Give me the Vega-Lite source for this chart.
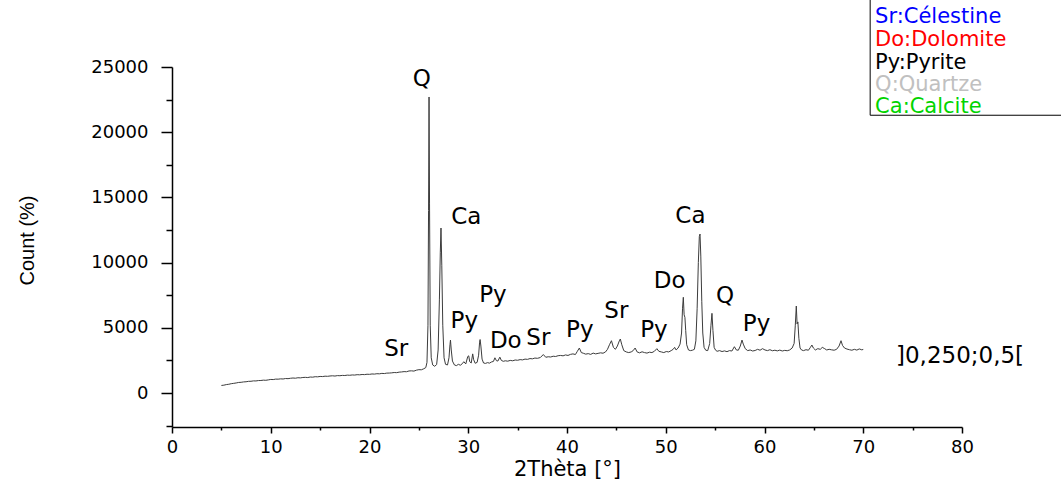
{
  "$schema": "https://vega.github.io/schema/vega-lite/v6.json",
  "width": 790,
  "height": 360,
  "autosize": {"type": "none"},
  "padding": {"left": 172, "top": 67, "right": 99, "bottom": 60},
  "background": "white",
  "config": {"view": {"stroke": null}},
  "encoding": {
    "x": {
      "field": "t",
      "type": "quantitative",
      "scale": {"domain": [0, 80], "nice": false, "zero": false},
      "axis": {
        "title": "2Thèta [°]",
        "values": [0, 5, 10, 15, 20, 25, 30, 35, 40, 45, 50, 55, 60, 65, 70, 75, 80],
        "format": "d",
        "labelExpr": "datum.value % 10 === 0 ? datum.label : ''",
        "tickSize": {"condition": {"test": "datum.value % 10 === 0", "value": 6}, "value": 3},
        "tickWidth": 1.5,
        "tickColor": "black",
        "domainColor": "black",
        "domainWidth": 1.5,
        "grid": false,
        "labelColor": "black",
        "labelFont": "DejaVu Sans",
        "labelFontSize": 18,
        "labelPadding": 5,
        "labelFlush": false,
        "labelOverlap": false,
        "titleColor": "black",
        "titleFont": "DejaVu Sans",
        "titleFontSize": 21,
        "titleFontWeight": "normal",
        "titlePadding": 2
      }
    },
    "y": {
      "field": "c",
      "type": "quantitative",
      "scale": {"domain": [-2607, 25000], "nice": false, "zero": false},
      "axis": {
        "title": "Count (%)",
        "values": [-2500, 0, 2500, 5000, 7500, 10000, 12500, 15000, 17500, 20000, 22500, 25000],
        "format": "d",
        "labelExpr": "datum.value % 5000 === 0 && datum.value >= 0 ? datum.label : ''",
        "tickSize": {"condition": {"test": "datum.value % 5000 === 0", "value": 11}, "value": 6},
        "tickWidth": 1.5,
        "tickColor": "black",
        "domainColor": "black",
        "domainWidth": 1.5,
        "grid": false,
        "labelColor": "black",
        "labelFont": "DejaVu Sans",
        "labelFontSize": 18,
        "labelPadding": 13,
        "labelFlush": false,
        "labelOverlap": false,
        "titleColor": "black",
        "titleFont": "Liberation Sans",
        "titleFontSize": 20,
        "titleFontWeight": "normal",
        "titleX": -145,
        "titleY": 173,
        "titleBaseline": "middle",
        "titleAngle": 270
      }
    }
  },
  "layer": [
    {
      "data": {
        "values": [
          {"t": 5.0, "c": 580}, {"t": 5.25, "c": 600}, {"t": 5.5, "c": 645}, {"t": 5.75, "c": 670},
          {"t": 6.0, "c": 715}, {"t": 6.25, "c": 740}, {"t": 6.5, "c": 770}, {"t": 6.75, "c": 810},
          {"t": 7.0, "c": 820}, {"t": 7.25, "c": 850}, {"t": 7.5, "c": 862}, {"t": 7.75, "c": 895},
          {"t": 8.0, "c": 900}, {"t": 8.25, "c": 930}, {"t": 8.5, "c": 925}, {"t": 8.75, "c": 955},
          {"t": 9.0, "c": 960}, {"t": 9.25, "c": 985}, {"t": 9.5, "c": 975}, {"t": 9.75, "c": 1005},
          {"t": 10.0, "c": 1040}, {"t": 10.25, "c": 1030}, {"t": 10.5, "c": 1065}, {"t": 10.75, "c": 1060},
          {"t": 11.0, "c": 1085}, {"t": 11.25, "c": 1075}, {"t": 11.5, "c": 1110}, {"t": 11.75, "c": 1100},
          {"t": 12.0, "c": 1130}, {"t": 12.25, "c": 1150}, {"t": 12.5, "c": 1135}, {"t": 12.75, "c": 1170},
          {"t": 13.0, "c": 1160}, {"t": 13.25, "c": 1190}, {"t": 13.5, "c": 1200}, {"t": 13.75, "c": 1185},
          {"t": 14.0, "c": 1225}, {"t": 14.25, "c": 1215}, {"t": 14.5, "c": 1250}, {"t": 14.75, "c": 1240},
          {"t": 15.0, "c": 1270}, {"t": 15.25, "c": 1260}, {"t": 15.5, "c": 1290}, {"t": 15.75, "c": 1280},
          {"t": 16.0, "c": 1305}, {"t": 16.25, "c": 1320}, {"t": 16.5, "c": 1300}, {"t": 16.75, "c": 1335},
          {"t": 17.0, "c": 1325}, {"t": 17.25, "c": 1350}, {"t": 17.5, "c": 1340}, {"t": 17.75, "c": 1370},
          {"t": 18.0, "c": 1360}, {"t": 18.25, "c": 1385}, {"t": 18.5, "c": 1375}, {"t": 18.75, "c": 1405},
          {"t": 19.0, "c": 1395}, {"t": 19.25, "c": 1420}, {"t": 19.5, "c": 1410}, {"t": 19.75, "c": 1440},
          {"t": 20.0, "c": 1430}, {"t": 20.25, "c": 1460}, {"t": 20.5, "c": 1450}, {"t": 20.75, "c": 1480},
          {"t": 21.0, "c": 1470}, {"t": 21.25, "c": 1505}, {"t": 21.5, "c": 1490}, {"t": 21.75, "c": 1525},
          {"t": 22.0, "c": 1530}, {"t": 22.25, "c": 1545}, {"t": 22.5, "c": 1570}, {"t": 22.75, "c": 1560},
          {"t": 23.0, "c": 1600}, {"t": 23.25, "c": 1615}, {"t": 23.5, "c": 1640}, {"t": 23.75, "c": 1630},
          {"t": 24.0, "c": 1690}, {"t": 24.25, "c": 1700}, {"t": 24.5, "c": 1680}, {"t": 24.75, "c": 1750},
          {"t": 25.0, "c": 1790}, {"t": 25.25, "c": 1780}, {"t": 25.5, "c": 1860},
          {"t": 25.7, "c": 1950}, {"t": 25.82, "c": 2350}, {"t": 25.92, "c": 5200}, {"t": 25.98, "c": 14000},
          {"t": 26.03, "c": 22700}, {"t": 26.08, "c": 14500}, {"t": 26.15, "c": 5200}, {"t": 26.25, "c": 2700},
          {"t": 26.4, "c": 2150}, {"t": 26.6, "c": 2050}, {"t": 26.8, "c": 2180}, {"t": 26.95, "c": 3300},
          {"t": 27.08, "c": 7200}, {"t": 27.17, "c": 10800}, {"t": 27.24, "c": 12650}, {"t": 27.32, "c": 9800},
          {"t": 27.42, "c": 5200}, {"t": 27.55, "c": 2700}, {"t": 27.7, "c": 2200}, {"t": 27.9, "c": 2150},
          {"t": 28.05, "c": 2700}, {"t": 28.15, "c": 3700}, {"t": 28.2, "c": 4060}, {"t": 28.28, "c": 3300},
          {"t": 28.4, "c": 2450}, {"t": 28.6, "c": 2150}, {"t": 28.8, "c": 2100}, {"t": 29.0, "c": 2200},
          {"t": 29.2, "c": 2130}, {"t": 29.4, "c": 2250}, {"t": 29.55, "c": 2400}, {"t": 29.75, "c": 2230},
          {"t": 29.95, "c": 2800}, {"t": 30.05, "c": 2850}, {"t": 30.15, "c": 2400}, {"t": 30.3, "c": 2300},
          {"t": 30.45, "c": 3000}, {"t": 30.55, "c": 2550}, {"t": 30.7, "c": 2280}, {"t": 30.9, "c": 2350},
          {"t": 31.05, "c": 2900}, {"t": 31.15, "c": 3900}, {"t": 31.2, "c": 4100}, {"t": 31.28, "c": 3600},
          {"t": 31.4, "c": 2600}, {"t": 31.55, "c": 2300}, {"t": 31.75, "c": 2270}, {"t": 31.95, "c": 2330},
          {"t": 32.15, "c": 2290}, {"t": 32.35, "c": 2380}, {"t": 32.55, "c": 2420}, {"t": 32.7, "c": 2700},
          {"t": 32.85, "c": 2480}, {"t": 33.0, "c": 2450}, {"t": 33.2, "c": 2750}, {"t": 33.35, "c": 2500},
          {"t": 33.55, "c": 2430}, {"t": 33.75, "c": 2470}, {"t": 34.0, "c": 2440}, {"t": 34.25, "c": 2500},
          {"t": 34.5, "c": 2470}, {"t": 34.75, "c": 2530}, {"t": 35.0, "c": 2510}, {"t": 35.25, "c": 2560},
          {"t": 35.5, "c": 2540}, {"t": 35.75, "c": 2600}, {"t": 36.0, "c": 2580}, {"t": 36.25, "c": 2640},
          {"t": 36.5, "c": 2620}, {"t": 36.75, "c": 2680}, {"t": 37.0, "c": 2660}, {"t": 37.3, "c": 2720},
          {"t": 37.6, "c": 2950}, {"t": 37.85, "c": 2740}, {"t": 38.1, "c": 2780}, {"t": 38.35, "c": 2760},
          {"t": 38.6, "c": 2820}, {"t": 38.85, "c": 2800}, {"t": 39.1, "c": 2860}, {"t": 39.35, "c": 2880},
          {"t": 39.6, "c": 2850}, {"t": 39.85, "c": 2920}, {"t": 40.1, "c": 2880}, {"t": 40.35, "c": 2960},
          {"t": 40.6, "c": 3000}, {"t": 40.85, "c": 2950}, {"t": 41.05, "c": 3200}, {"t": 41.25, "c": 3450},
          {"t": 41.45, "c": 3100}, {"t": 41.65, "c": 3050}, {"t": 41.9, "c": 2980}, {"t": 42.15, "c": 3020},
          {"t": 42.4, "c": 2960}, {"t": 42.65, "c": 3060}, {"t": 42.9, "c": 3000}, {"t": 43.15, "c": 3040},
          {"t": 43.4, "c": 3080}, {"t": 43.65, "c": 3050}, {"t": 43.9, "c": 3150}, {"t": 44.1, "c": 3350},
          {"t": 44.3, "c": 3700}, {"t": 44.5, "c": 4010}, {"t": 44.7, "c": 3500}, {"t": 44.9, "c": 3350},
          {"t": 45.1, "c": 3600}, {"t": 45.3, "c": 4000}, {"t": 45.4, "c": 4140}, {"t": 45.55, "c": 3700},
          {"t": 45.75, "c": 3250}, {"t": 46.0, "c": 3150}, {"t": 46.25, "c": 3100}, {"t": 46.5, "c": 3150},
          {"t": 46.7, "c": 3250}, {"t": 46.9, "c": 3450}, {"t": 47.1, "c": 3150}, {"t": 47.35, "c": 3080},
          {"t": 47.6, "c": 3160}, {"t": 47.85, "c": 3100}, {"t": 48.1, "c": 3060}, {"t": 48.35, "c": 3130},
          {"t": 48.6, "c": 3100}, {"t": 48.85, "c": 3200}, {"t": 49.1, "c": 3400}, {"t": 49.3, "c": 3200},
          {"t": 49.55, "c": 3150}, {"t": 49.8, "c": 3100}, {"t": 50.05, "c": 3180}, {"t": 50.3, "c": 3150},
          {"t": 50.55, "c": 3250}, {"t": 50.75, "c": 3350}, {"t": 50.9, "c": 3500}, {"t": 51.05, "c": 3300},
          {"t": 51.25, "c": 3450}, {"t": 51.45, "c": 3750}, {"t": 51.6, "c": 4600}, {"t": 51.7, "c": 6500},
          {"t": 51.78, "c": 7340}, {"t": 51.86, "c": 6000}, {"t": 51.94, "c": 5800}, {"t": 52.02, "c": 4800},
          {"t": 52.12, "c": 3700}, {"t": 52.3, "c": 3300}, {"t": 52.5, "c": 3250}, {"t": 52.7, "c": 3280},
          {"t": 52.9, "c": 3350}, {"t": 53.05, "c": 4000}, {"t": 53.18, "c": 6500}, {"t": 53.3, "c": 10000},
          {"t": 53.4, "c": 12000}, {"t": 53.47, "c": 12190}, {"t": 53.55, "c": 10500}, {"t": 53.65, "c": 7000},
          {"t": 53.75, "c": 4600}, {"t": 53.88, "c": 3500}, {"t": 54.05, "c": 3280}, {"t": 54.25, "c": 3250},
          {"t": 54.45, "c": 3800}, {"t": 54.58, "c": 5200}, {"t": 54.68, "c": 6110}, {"t": 54.78, "c": 4800},
          {"t": 54.9, "c": 3500}, {"t": 55.05, "c": 3280}, {"t": 55.2, "c": 3200}, {"t": 55.45, "c": 3250},
          {"t": 55.7, "c": 3180}, {"t": 55.95, "c": 3230}, {"t": 56.2, "c": 3170}, {"t": 56.45, "c": 3250},
          {"t": 56.7, "c": 3220}, {"t": 56.95, "c": 3550}, {"t": 57.15, "c": 3300}, {"t": 57.35, "c": 3280},
          {"t": 57.55, "c": 3600}, {"t": 57.72, "c": 4060}, {"t": 57.85, "c": 3750}, {"t": 58.05, "c": 3400},
          {"t": 58.3, "c": 3250}, {"t": 58.55, "c": 3300}, {"t": 58.8, "c": 3220}, {"t": 59.05, "c": 3260},
          {"t": 59.3, "c": 3350}, {"t": 59.55, "c": 3280}, {"t": 59.8, "c": 3400}, {"t": 60.05, "c": 3300},
          {"t": 60.3, "c": 3250}, {"t": 60.55, "c": 3320}, {"t": 60.8, "c": 3240}, {"t": 61.05, "c": 3280},
          {"t": 61.3, "c": 3230}, {"t": 61.55, "c": 3290}, {"t": 61.8, "c": 3220}, {"t": 62.05, "c": 3270},
          {"t": 62.3, "c": 3240}, {"t": 62.55, "c": 3300}, {"t": 62.8, "c": 3450}, {"t": 63.0, "c": 3800},
          {"t": 63.12, "c": 5200}, {"t": 63.22, "c": 6670}, {"t": 63.3, "c": 5300}, {"t": 63.38, "c": 5450},
          {"t": 63.48, "c": 4200}, {"t": 63.6, "c": 3450}, {"t": 63.75, "c": 3300}, {"t": 63.95, "c": 3250},
          {"t": 64.2, "c": 3320}, {"t": 64.45, "c": 3280}, {"t": 64.65, "c": 3500}, {"t": 64.8, "c": 3680},
          {"t": 64.95, "c": 3450}, {"t": 65.15, "c": 3300}, {"t": 65.4, "c": 3400}, {"t": 65.65, "c": 3350},
          {"t": 65.85, "c": 3500}, {"t": 66.05, "c": 3420}, {"t": 66.3, "c": 3300}, {"t": 66.55, "c": 3350},
          {"t": 66.8, "c": 3310}, {"t": 67.05, "c": 3280}, {"t": 67.3, "c": 3350}, {"t": 67.55, "c": 3600},
          {"t": 67.75, "c": 4010}, {"t": 67.9, "c": 3650}, {"t": 68.1, "c": 3450}, {"t": 68.35, "c": 3370},
          {"t": 68.6, "c": 3320}, {"t": 68.85, "c": 3280}, {"t": 69.1, "c": 3350}, {"t": 69.35, "c": 3290},
          {"t": 69.6, "c": 3380}, {"t": 69.85, "c": 3310}, {"t": 70.0, "c": 3340}
        ]
      },
      "mark": {"type": "line", "color": "#3c3c3c", "strokeWidth": 1, "interpolate": "linear"}
    },
    {
      "data": {
        "values": [
          {"t": 22.7, "c": 3370, "s": "Sr"},
          {"t": 25.3, "c": 24050, "s": "Q"},
          {"t": 29.8, "c": 13500, "s": "Ca"},
          {"t": 32.5, "c": 7510, "s": "Py"},
          {"t": 29.6, "c": 5520, "s": "Py"},
          {"t": 33.8, "c": 3950, "s": "Do"},
          {"t": 37.1, "c": 4220, "s": "Sr"},
          {"t": 41.3, "c": 4830, "s": "Py"},
          {"t": 45.0, "c": 6290, "s": "Sr"},
          {"t": 48.8, "c": 4830, "s": "Py"},
          {"t": 50.4, "c": 8590, "s": "Do"},
          {"t": 52.5, "c": 13570, "s": "Ca"},
          {"t": 56.0, "c": 7440, "s": "Q"},
          {"t": 59.2, "c": 5290, "s": "Py"},
          {"t": 79.8, "c": 2840, "s": "]0,250;0,5["}
        ]
      },
      "mark": {"type": "text", "font": "DejaVu Sans", "fontSize": 23, "color": "black", "align": "center", "baseline": "middle"},
      "encoding": {"text": {"field": "s"}}
    },
    {
      "data": {
        "values": [
          {"t": 70.7, "t2": 100, "c": 21300, "c2": 32000}
        ]
      },
      "mark": {"type": "rect", "fill": null, "fillOpacity": 0, "stroke": "black", "strokeWidth": 1},
      "encoding": {"x2": {"field": "t2"}, "y2": {"field": "c2"}}
    },
    {
      "data": {
        "values": [
          {"t": 71.2, "c": 28830, "s": "Sr:Célestine"},
          {"t": 71.2, "c": 27070, "s": "Do:Dolomite"},
          {"t": 71.2, "c": 25310, "s": "Py:Pyrite"},
          {"t": 71.2, "c": 23620, "s": "Q:Quartze"},
          {"t": 71.2, "c": 21930, "s": "Ca:Calcite"}
        ]
      },
      "mark": {"type": "text", "font": "DejaVu Sans", "fontSize": 21, "align": "left", "baseline": "middle"},
      "encoding": {
        "text": {"field": "s"},
        "color": {
          "field": "s",
          "type": "nominal",
          "legend": null,
          "scale": {
            "domain": ["Sr:Célestine", "Do:Dolomite", "Py:Pyrite", "Q:Quartze", "Ca:Calcite"],
            "range": ["#0000ff", "#ff0000", "#000000", "#c0c0c0", "#00d400"]
          }
        }
      }
    }
  ]
}
